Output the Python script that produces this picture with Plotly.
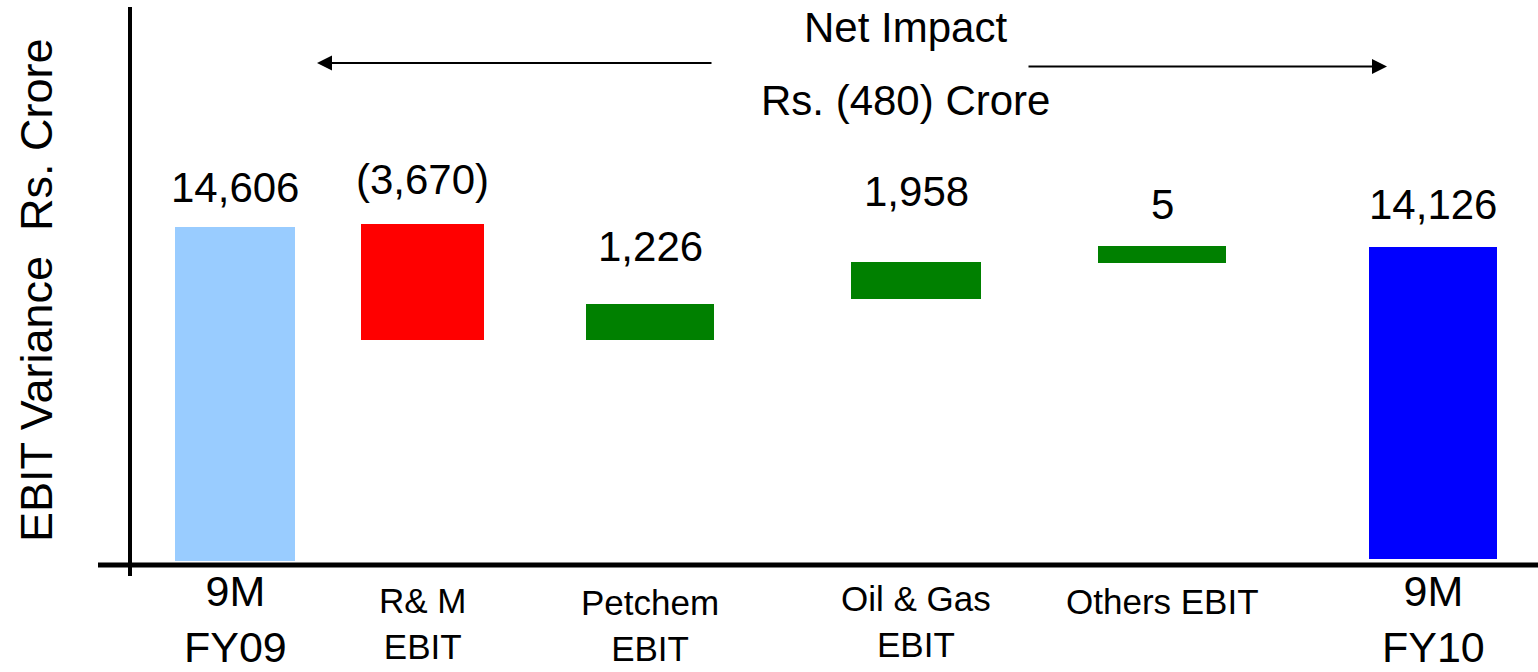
import plotly.graph_objects as go

# ---------------- data ----------------
categories = ["9M<br>FY09", "R& M<br>EBIT", "Petchem<br>EBIT", "Oil & Gas<br>EBIT", "Others EBIT", "9M<br>FY10"]
value_labels = ["14,606", "(3,670)", "1,226", "1,958", "5", "14,126"]
# bar extents as drawn (Rs. Crore scale of the chart)
bar_bottom = [0, 9650, 9650, 11440, 13030, 90]
bar_top = [14606, 14720, 11220, 13060, 13760, 13710]
title_line1 = "Net Impact"
title_line2 = "Rs. (480) Crore"
y_title = "EBIT Variance  Rs. Crore"

# ---------------- layout / style ----------------
W, H = 1538, 672
K = 43.67                      # data units per pixel
BASE_PX = 561                  # pixel row of value 0
x_centers = [235, 422.5, 650, 916, 1162, 1433]
bar_widths = [120, 123, 128, 130, 128, 128]
colors = ["#99CCFF", "#FF0000", "#008000", "#008000", "#008000", "#0000FF"]
label_font = [43, 35, 35, 35, 35, 43]
label_center_px = [619, 623, 625, 621, 601, 619]
value_shift = [39, 44, 58, 70, 41, 43]
FONT = "Arial, Liberation Sans, sans-serif"


def py(p):
    """pixel row -> paper y"""
    return 1 - p / H


heights = [t - b for t, b in zip(bar_top, bar_bottom)]

fig = go.Figure()
fig.add_trace(go.Bar(
    x=x_centers, y=heights, base=bar_bottom, width=bar_widths,
    marker=dict(color=colors, line=dict(width=0)),
    hoverinfo="skip", showlegend=False,
))

ann = []
# value labels above bars
for xc, top, txt, sh in zip(x_centers, bar_top, value_labels, value_shift):
    ann.append(dict(x=xc, y=top, xref="x", yref="y", text=txt, showarrow=False,
                    yshift=sh, yanchor="middle", xanchor="center",
                    font=dict(family=FONT, size=42, color="black")))
# category labels under axis
for xc, txt, fs, cy in zip(x_centers, categories, label_font, label_center_px):
    ann.append(dict(x=xc, y=py(cy), xref="x", yref="paper", text=txt, showarrow=False,
                    yanchor="middle", xanchor="center",
                    font=dict(family=FONT, size=fs, color="black")))
# titles
ann.append(dict(x=905, y=py(28), xref="x", yref="paper", text=title_line1, showarrow=False,
                yanchor="middle", font=dict(family=FONT, size=42, color="black")))
ann.append(dict(x=905, y=py(100), xref="x", yref="paper", text=title_line2, showarrow=False,
                yanchor="middle", font=dict(family=FONT, size=42, color="black")))
# y-axis title
ann.append(dict(x=36, y=py(290), xref="x", yref="paper", text=y_title, showarrow=False,
                textangle=-90, xanchor="center", yanchor="middle",
                font=dict(family=FONT, size=45, color="black")))
# arrows
ann.append(dict(x=317, y=py(63), xref="x", yref="paper", ax=396, ay=0, text="",
                showarrow=True, arrowhead=2, arrowsize=1.5, arrowwidth=2, arrowcolor="black"))
ann.append(dict(x=1387, y=py(66.5), xref="x", yref="paper", ax=-360, ay=0, text="",
                showarrow=True, arrowhead=2, arrowsize=1.5, arrowwidth=2, arrowcolor="black"))

shapes = [
    dict(type="line", xref="x", yref="paper", x0=130, x1=130, y0=py(7), y1=py(576),
         line=dict(color="black", width=4)),
    dict(type="line", xref="x", yref="paper", x0=98, x1=1538, y0=py(565), y1=py(565),
         line=dict(color="black", width=5)),
]

fig.update_layout(
    width=W, height=H,
    margin=dict(l=0, r=0, t=0, b=0),
    paper_bgcolor="white", plot_bgcolor="white",
    xaxis=dict(range=[0, W], visible=False, fixedrange=True),
    yaxis=dict(range=[(BASE_PX - H) * K, BASE_PX * K], visible=False, fixedrange=True),
    annotations=ann, shapes=shapes,
    bargap=0,
)

fig.write_html("out.html", config={"displayModeBar": False},
               post_script="document.body.style.margin='0';")
